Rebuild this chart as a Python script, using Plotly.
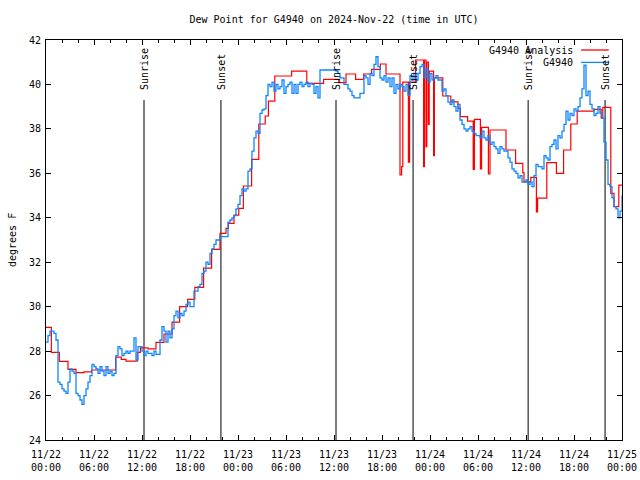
import plotly.graph_objects as go
import pandas as pd

# ---------------- data ----------------
start = pd.Timestamp("2024-11-22 00:00")
end = pd.Timestamp("2024-11-25 00:00")

# G4940 observations, every 15 minutes from 11/22 00:00
blue_values = [
    28.4, 28.7, 28.9, 28.9,  28.8, 28.5, 26.6, 26.5,  26.3, 26.2, 26.1, 26.6,
    27.2, 27.1, 27.0, 26.1,  26.0, 25.8, 25.6, 26.0,  26.3, 26.6, 26.9, 27.4,
    27.3, 27.2, 27.0, 27.3,  27.1, 26.9, 27.3, 27.0,  27.1, 26.9, 27.0, 27.8,
    28.2, 28.1, 27.8, 27.9,  28.0, 27.9, 28.0, 28.0,  28.6, 27.6, 28.2, 28.2,
    28.0, 27.8, 28.0, 27.9,  27.9, 27.8, 28.0, 27.85, 27.85, 28.5, 29.1, 28.9,
    28.4, 28.9, 28.6, 29.0,  29.6, 29.8, 29.5, 29.7,  29.6, 29.8, 30.1, 30.2,
    30.0, 30.0, 30.7, 30.7,  30.9, 31.0, 31.5, 31.6,  32.0, 31.9, 32.4, 32.6,
    32.8, 33.0, 33.0, 33.15, 33.15, 33.15, 33.15, 33.8, 33.9, 34.0, 34.1, 34.4,
    34.6, 35.0, 35.3, 35.2,  35.3, 36.1, 36.2, 37.0,  37.6, 37.9, 37.8, 38.7,
    38.85, 38.9, 39.5, 40.0, 39.9, 40.1, 39.7, 40.0,  39.8, 39.9, 40.2, 39.6,
    39.9, 40.0, 40.1, 39.6,  40.0, 39.6, 40.0, 40.1,  39.9, 40.0, 40.1, 39.9,
    40.05, 40.0, 39.6, 39.9, 39.4, 40.65, 40.65, 40.65, 40.65, 40.65, 40.65, 40.65,
    40.65, 40.6, 40.5, 40.3, 40.3, 40.0, 40.0, 39.8,  39.7, 39.5, 39.4, 39.4,
    39.4, 39.6, 39.6, 40.4,  40.3, 40.0, 40.5, 40.4,  40.9, 41.25, 40.8, 40.3,
    40.2, 40.4, 40.1, 40.3,  39.9, 40.3, 39.6, 40.0,  39.8, 40.0, 39.9, 39.7,
    40.0, 39.5, 40.4, 40.2,  40.5, 40.2, 40.5, 40.8,  40.9, 40.3, 40.7, 40.1,
    40.5, 40.2, 40.3, 40.4,  40.2, 40.2, 39.7, 39.8,  39.5, 39.2, 39.1, 39.3,
    39.0, 38.8, 39.1, 38.4,  38.2, 38.0, 37.9, 38.0,  38.1, 37.9, 37.8, 37.7,
    37.7, 37.6, 37.9, 37.6,  37.5, 37.7, 37.3, 37.4,  37.2, 37.1, 36.9, 37.2,
    37.1, 37.0, 37.0, 36.7,  36.5, 36.2, 36.1, 36.0,  35.8, 35.9, 35.6, 35.6,
    35.7, 35.5, 35.6, 35.4,  35.9, 36.4, 36.3, 36.3,  36.2, 36.8, 36.7, 36.6,
    37.2, 37.3, 37.5, 37.1,  37.7, 37.6, 37.9, 38.2,  38.8, 38.4, 38.7, 38.6,
    38.9, 38.8, 39.0, 39.4,  39.8, 40.87, 39.5, 39.7, 39.1, 38.9, 38.6, 38.7,
    39.0, 38.7, 38.5, 37.4,  36.6, 35.5, 35.4, 34.9,  34.5, 34.4, 34.0, 34.3,
    35.0,
]
blue_times = [start + pd.Timedelta(minutes=15 * i) for i in range(len(blue_values))]

# G4940 analysis (step changes), hours after 11/22 00:00
red_hours = [
    0.0, 0.67, 1.67, 2.75, 3.75, 4.75, 5.7, 8.7, 9.4, 10.0, 11.4, 11.8,
    12.75, 13.75, 14.75, 15.75, 16.7, 17.7, 18.6, 19.7, 20.7, 21.75, 22.5,
    22.8, 23.5, 24.1, 24.67, 25.7, 26.6, 27.4, 27.8, 28.6, 30.7, 32.6, 34.7,
    36.6, 37.5, 38.7, 39.7, 40.7, 41.8, 42.5, 44.25, 44.45, 44.6, 45.3,
    45.45, 46.2, 47.2, 47.3, 47.5, 47.6, 47.8, 47.9, 48.45, 48.55, 49.6,
    50.6, 51.5, 51.8, 52.7, 53.4, 53.55, 54.3, 54.45, 55.3, 55.5, 57.5,
    58.7, 59.6, 59.75, 60.6, 61.3, 61.45, 62.6, 63.8, 64.7, 65.6, 66.4,
    68.5, 69.4, 69.6, 70.6, 71.0, 71.6, 72.0,
]
red_values = [
    29.07, 27.94, 27.54, 27.18, 27.03, 27.07, 27.15, 27.73, 27.63, 27.55, 27.94, 28.15,
    28.1, 28.39, 28.77, 29.3, 30.0, 30.33, 30.87, 31.73, 32.58, 33.3, 33.52,
    33.75, 34.12, 34.42, 35.43, 36.63, 38.22, 38.58, 39.25, 40.38, 40.6, 40.05, 40.23,
    40.08, 40.47, 40.23, 40.47, 40.68, 40.92, 40.47, 35.93, 36.3, 40.1, 36.5,
    40.1, 41.1, 36.3, 41.1, 37.2, 41.0, 38.2, 40.6, 36.8, 40.3, 39.48,
    39.22, 38.93, 38.55, 38.35, 36.18, 38.43, 36.2, 38.07, 35.97, 37.95, 37.05,
    36.45, 36.03, 35.62, 35.82, 34.27, 34.88, 36.48, 36.0, 37.05, 38.22, 38.8,
    38.88, 38.48, 38.97, 35.1, 34.5, 35.47, 35.47,
]
red_times = [start + pd.Timedelta(hours=h) for h in red_hours]

sun_times = ["2024-11-22 12:15", "2024-11-22 21:52", "2024-11-23 12:15",
             "2024-11-23 21:53", "2024-11-24 12:16", "2024-11-24 21:53"]
sun_labels = ["Sunrise", "Sunset", "Sunrise", "Sunset", "Sunrise", "Sunset"]

tick_times = [start + pd.Timedelta(hours=6 * i) for i in range(13)]
tick_labels = ["11/22<br>00:00", "11/22<br>06:00", "11/22<br>12:00", "11/22<br>18:00",
               "11/23<br>00:00", "11/23<br>06:00", "11/23<br>12:00", "11/23<br>18:00",
               "11/24<br>00:00", "11/24<br>06:00", "11/24<br>12:00", "11/24<br>18:00",
               "11/25<br>00:00"]
y_ticks = [24, 26, 28, 30, 32, 34, 36, 38, 40, 42]

series_names = ["G4940 Analysis", "G4940"]
series_colors = ["#ff0000", "#0f85ff"]

FONT = "DejaVu Sans Mono"

# ---------------- figure ----------------
fig = go.Figure()
fig.add_trace(go.Scatter(x=red_times, y=red_values, mode="lines", line_shape="hv",
                         line=dict(color=series_colors[0], width=1.2), name=series_names[0]))
fig.add_trace(go.Scatter(x=blue_times, y=blue_values, mode="lines", line_shape="hv",
                         line=dict(color=series_colors[1], width=1.3), name=series_names[1]))

for t, lab in zip(sun_times, sun_labels):
    fig.add_shape(type="line", xref="x", yref="paper", x0=t, x1=t, y0=0, y1=0.85,
                  line=dict(color="black", width=1), layer="below")
    fig.add_annotation(x=t, y=0.87, xref="x", yref="paper", text=lab, textangle=-90,
                       showarrow=False, xanchor="center", yanchor="bottom",
                       font=dict(family=FONT, size=10, color="black"))

# manual legend (text left of sample line, gnuplot style)
leg_y = [0.975, 0.944]
for name, col, yy in zip(series_names, series_colors, leg_y):
    fig.add_annotation(x=0.918, y=yy, xref="paper", yref="paper", text=name,
                       showarrow=False, xanchor="right", yanchor="middle",
                       font=dict(family=FONT, size=10, color="black"))
    fig.add_shape(type="line", xref="paper", yref="paper", x0=0.929, x1=0.977,
                  y0=yy, y1=yy, line=dict(color=col, width=1.3))

fig.add_annotation(x=-0.059, y=0.5, xref="paper", yref="paper", text="degrees F",
                   textangle=-90, showarrow=False, xanchor="center", yanchor="middle",
                   font=dict(family=FONT, size=10, color="black"))

fig.update_layout(
    width=640, height=480,
    margin=dict(l=46, r=18, t=40, b=40, autoexpand=False),
    paper_bgcolor="white", plot_bgcolor="white",
    showlegend=False,
    font=dict(family=FONT, size=10, color="black"),
    title=dict(text="Dew Point for G4940 on 2024-Nov-22 (time in UTC)",
               x=0.5, xref="paper", y=1 - 19 / 480, yref="container",
               xanchor="center", yanchor="middle",
               font=dict(family=FONT, size=10, color="black")),
)
fig.update_xaxes(
    range=[start, end], tickmode="array", tickvals=tick_times, ticktext=tick_labels,
    ticks="inside", ticklen=5, tickcolor="black", showgrid=False, zeroline=False,
    showline=True, linecolor="black", linewidth=1, mirror="ticks", automargin=False,
    ticklabelstandoff=5,
    tickfont=dict(family=FONT, size=10, color="black"),
    minor=dict(tickmode="linear", tick0=start, dtick=2 * 3600 * 1000,
               ticks="inside", ticklen=3, tickcolor="black", showgrid=False),
)
fig.update_yaxes(
    range=[24, 42], tickmode="array", tickvals=y_ticks, automargin=False,
    ticks="inside", ticklen=5, tickcolor="black", showgrid=False, zeroline=False,
    showline=True, linecolor="black", linewidth=1, mirror="ticks",
    ticklabelstandoff=2,
    tickfont=dict(family=FONT, size=10, color="black"),
)

fig.write_html("out.html", config={"displayModeBar": False},
               post_script="document.body.style.margin='0';document.body.style.overflow='hidden';")
